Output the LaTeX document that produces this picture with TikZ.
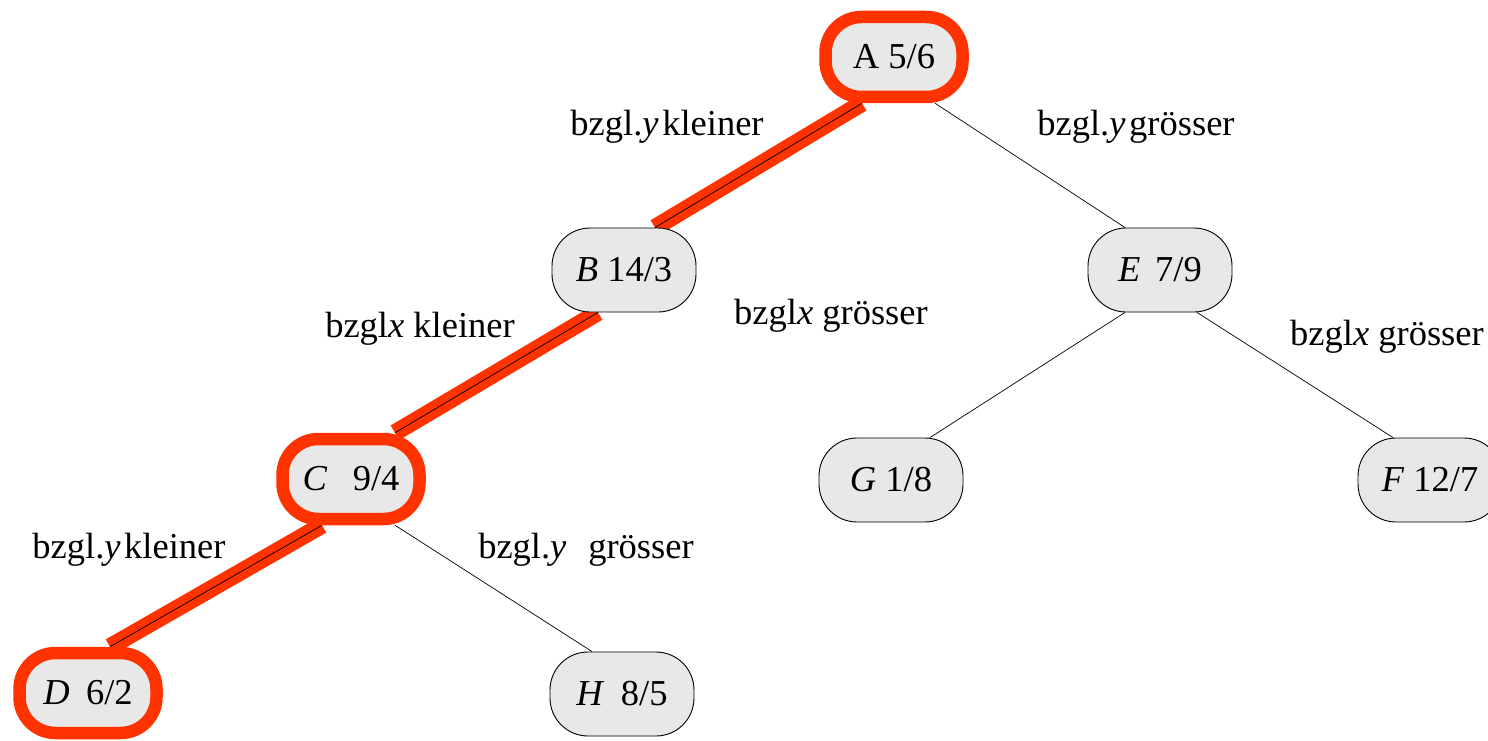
\documentclass[tikz,border=0pt]{standalone}
\usepackage{fontspec}
\setmainfont{Liberation Serif}
\usetikzlibrary{calc}
\pgfdeclarelayer{background}
\pgfsetlayers{background,main}
\definecolor{hl}{RGB}{255,51,0}
\definecolor{nodegray}{RGB}{232,232,232}
\begin{document}
\begin{tikzpicture}[x=1pt,y=-1pt,
  every node/.style={font=\fontsize{36.5}{40}\selectfont},
  knot/.style={draw=black, line width=0.9pt, fill=nodegray, rounded corners=38pt,
    minimum width=144pt, minimum height=84pt, inner sep=0pt},
  hlknot/.style={knot, draw=hl, line width=12.5pt, minimum width=137pt, minimum height=80pt, rounded corners=36pt},
  edge/.style={draw=black, line width=0.7pt},
  hledge/.style={draw=hl, line width=17pt},
  lbl/.style={inner sep=0pt}
]
\useasboundingbox (0,0) rectangle (1488,741);

% nodes
\node[hlknot] (A) at (894,57)  {A 5/6};
\node[knot]   (B) at (624,270) {\textit{B} 14/3};
\node[knot]   (E) at (1160,270) {\textit{E}\hspace{0.4em}7/9};
\node[hlknot] (C) at (351,479) {\textit{C}\hspace{0.7em}9/4};
\node[knot]   (G) at (891,480) {\textit{G} 1/8};
\node[knot]   (F) at (1430,480) {\textit{F} 12/7};
\node[hlknot] (D) at (88,693)  {\textit{D}\hspace{0.45em}6/2};
\node[knot]   (H) at (622,694) {\textit{H}\hspace{0.45em}8/5};

% edges
\begin{pgfonlayer}{background}
  \coordinate (ab1) at ($(A.south)+(-32,0)$);
  \coordinate (ab2) at ($(B.north)+(31,0)$);
  \coordinate (bc1) at ($(B.south)+(-26,0)$);
  \coordinate (bc2) at ($(C.north)+(44,0)$);
  \coordinate (cd1) at ($(C.south)+(-29,0)$);
  \coordinate (cd2) at ($(D.north)+(22,0)$);
  \path[hledge] (ab1) -- (ab2);
  \path[hledge] (bc1) -- (bc2);
  \path[hledge] (cd1) -- (cd2);
  \path[edge] (ab1) -- (ab2);
  \path[edge] (bc1) -- (bc2);
  \path[edge] (cd1) -- (cd2);
  \path[edge] ($(A.south)+(41,0)$) -- ($(E.north)+(-35,0)$);
  \path[edge] ($(E.south)+(-35,0)$) -- ($(G.north)+(39,0)$);
  \path[edge] ($(E.south)+(37,0)$) -- ($(F.north)+(-37,0)$);
  \path[edge] ($(C.south)+(44,0)$) -- ($(H.north)+(-30,0)$);
\end{pgfonlayer}

% labels
\node[lbl] (l1) at (667,127) {bzgl.\textit{y}\hspace{0.1em}kleiner};
\node[lbl] (l2) at (1136,127) {bzgl.\textit{y}\hspace{0.1em}grösser};
\node[lbl] (l3) at (420,329) {bzgl\textit{x} kleiner};
\node[lbl] (l4) at (831,316) {bzgl\textit{x} grösser};
\node[lbl] (l5) at (1387,337) {bzgl\textit{x} grösser};
\node[lbl] (l6) at (129,550) {bzgl.\textit{y}\hspace{0.1em}kleiner};
\node[lbl] (l7) at (586,550) {bzgl.\textit{y}\hspace{0.6em}grösser};
\end{tikzpicture}
\end{document}
